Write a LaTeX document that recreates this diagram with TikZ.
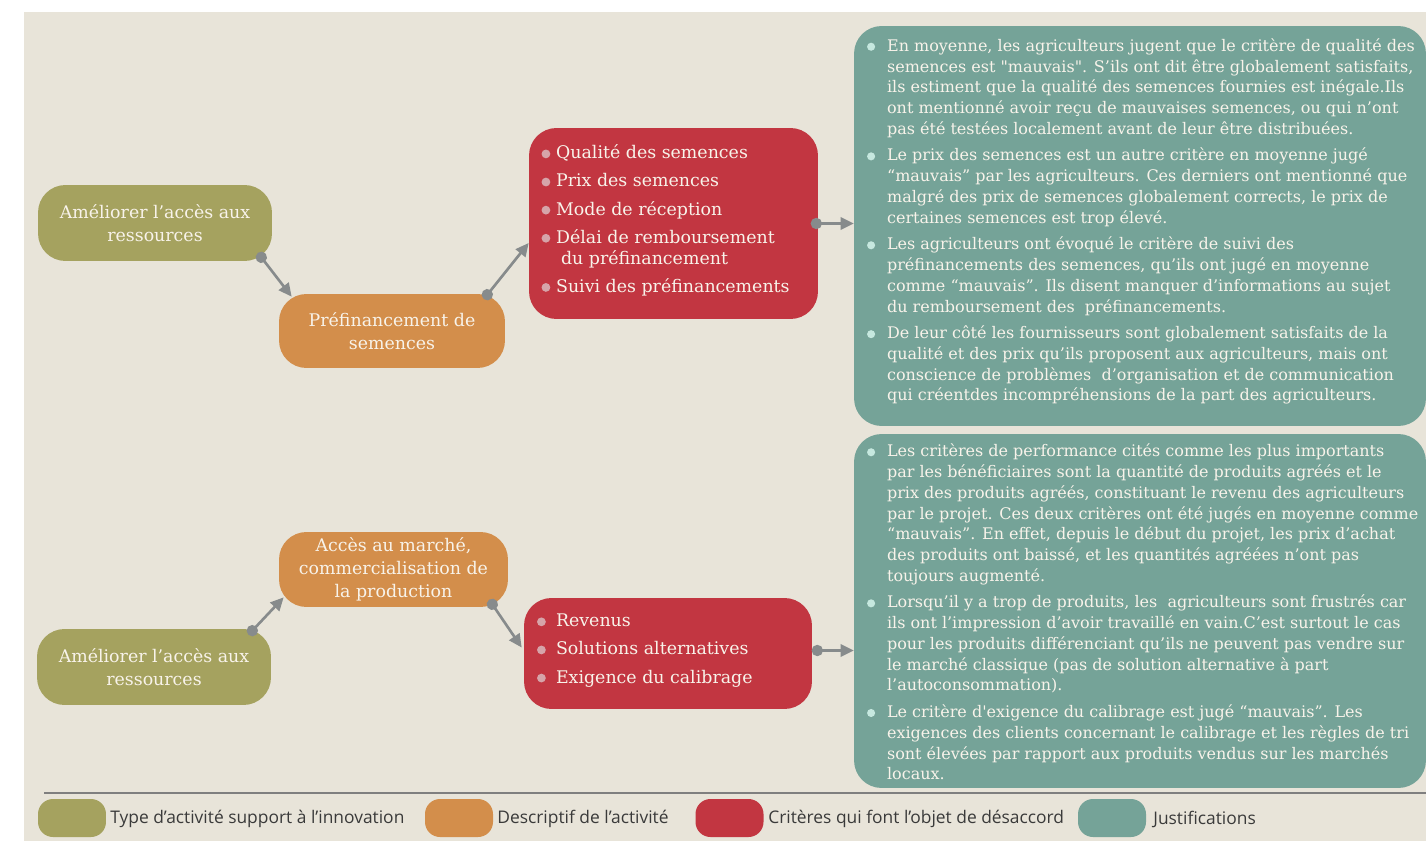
\documentclass[tikz,border=0pt]{standalone}
\usepackage{fontspec}
\setmainfont{DejaVu Serif}
\newfontfamily\legendfont{Open Sans}
\usetikzlibrary{arrows.meta}

\definecolor{bgbeige}{HTML}{E8E4D9}
\definecolor{boxgreen}{HTML}{A5A25F}
\definecolor{boxorange}{HTML}{D38E4B}
\definecolor{boxred}{HTML}{C23641}
\definecolor{boxteal}{HTML}{75A398}
\definecolor{linkgray}{HTML}{878B8C}
\definecolor{rulegray}{HTML}{7F7F7F}
\definecolor{textcream}{HTML}{F8F3EA}
\definecolor{dotred}{HTML}{D6A4A9}
\definecolor{dotteal}{HTML}{C6E8DF}
\definecolor{legendgray}{HTML}{3A3A3A}

\newcommand{\jusdot}{\tikz[baseline=-0.55ex]\fill[dotteal] (0,0) circle (2.3pt);}
\newcommand{\critdot}{\tikz[baseline=-0.55ex]\fill[dotred] (0,0) circle (2.5pt);}
\newcommand{\jbul}{\makebox[11.4pt][l]{\jusdot}}
\newcommand{\jind}{\hspace*{11.4pt}}

\begin{document}
\begin{tikzpicture}[x=0.02cm, y=-0.02cm,
    box/.style={rounded corners=0.55cm, inner sep=0pt, text=textcream, align=center,
      font=\fontsize{9.9}{13}\selectfont},
    actbox/.style={box, fill=boxgreen, minimum width=4.68cm, minimum height=1.52cm},
    descbox/.style={box, fill=boxorange},
    critbox/.style={box, fill=boxred},
    jusbox/.style={box, fill=boxteal, minimum width=11.44cm},
    listtext/.style={anchor=west, inner sep=0pt, align=left, text=textcream},
    crittext/.style={listtext, font=\fontsize{9.9}{12}\selectfont},
    justext/.style={listtext, font=\fontsize{9.1}{11.8}\selectfont},
    link/.style={draw=linkgray, line width=1.5pt,
      {Circle[length=6.4pt]}-{Triangle[length=7.5pt,width=7pt]}, shorten <=-3.2pt},
    swatch/.style={rounded corners=0.3cm, minimum width=1.36cm, minimum height=0.76cm, inner sep=0pt},
    legendtext/.style={anchor=west, inner sep=0pt, text=legendgray,
      font=\legendfont\fontsize{9.9}{11}\selectfont}]

  \useasboundingbox (0,0) rectangle (1426,841);
  \fill[bgbeige] (24,12) rectangle (1426,841);

  % first chain
  \node[actbox] (res1) at (155,223) {Améliorer l’accès aux\\ressources};
  \node[descbox, minimum width=4.52cm, minimum height=1.48cm] (pre1) at (392,331)
    {Préfinancement de\\semences};
  \node[critbox, minimum width=5.78cm, minimum height=3.82cm] (crit1) at (673.5,223.5) {};
  \node[crittext] (crit1txt) at ([xshift=0.25cm, yshift=0.06cm]crit1.west)
    {\makebox[8.3pt][l]{\critdot}Qualité des semences\\[4pt]
     \makebox[8.3pt][l]{\critdot}Prix des semences\\[4pt]
     \makebox[8.3pt][l]{\critdot}Mode de réception\\[4pt]
     \makebox[8.3pt][l]{\critdot}Délai de remboursement\\
     \hspace*{11.1pt}du préfinancement\\[4pt]
     \makebox[8.3pt][l]{\critdot}Suivi des préfinancements};
  \node[jusbox, minimum height=8cm] (jus1) at (1140,226) {};
  \node[justext] (jus1txt) at ([xshift=0.26cm, yshift=0.09cm]jus1.west)
    {\jbul En moyenne, les agriculteurs jugent que le critère de qualité des\\
     \jind semences est \textquotedbl mauvais\textquotedbl. S’ils ont dit être globalement satisfaits,\\
     \jind ils estiment que la qualité des semences fournies est inégale.Ils\\
     \jind ont mentionné avoir reçu de mauvaises semences, ou qui n’ont\\
     \jind pas été testées localement avant de leur être distribuées.\\[3.4pt]
     \jbul Le prix des semences est un autre critère en moyenne jugé\\
     \jind “mauvais” par les agriculteurs. Ces derniers ont mentionné que\\
     \jind malgré des prix de semences globalement corrects, le prix de\\
     \jind certaines semences est trop élevé.\\[3.4pt]
     \jbul Les agriculteurs ont évoqué le critère de suivi des\\
     \jind préfinancements des semences, qu’ils ont jugé en moyenne\\
     \jind comme “mauvais”. Ils disent manquer d’informations au sujet\\
     \jind du remboursement des\ \ préfinancements.\\[3.4pt]
     \jbul De leur côté les fournisseurs sont globalement satisfaits de la\\
     \jind qualité et des prix qu’ils proposent aux agriculteurs, mais ont\\
     \jind conscience de problèmes\ \ d’organisation et de communication\\
     \jind qui créentdes incompréhensions de la part des agriculteurs.};

  \draw[link] ([shift={(-11,-4)}]res1.south east) -- ([shift={(13,3)}]pre1.north west);
  \draw[link] ([shift={(-18,1)}]pre1.north east) -- ([shift={(0,19.5)}]crit1.west);
  \coordinate (out1) at ([xshift=-0.04cm]crit1.east);
  \draw[link] (out1) -- (out1 -| jus1.west);

  % second chain
  \node[actbox] (res2) at (154,667) {Améliorer l’accès aux\\ressources};
  \node[descbox, minimum width=4.58cm, minimum height=1.5cm] (pre2) at (393.5,569.5)
    {Accès au marché,\\commercialisation de\\la production};
  \node[critbox, minimum width=5.76cm, minimum height=2.22cm] (crit2) at (668,653.5) {};
  \node[crittext] (crit2txt) at ([xshift=0.26cm, yshift=0.06cm]crit2.west)
    {\makebox[10.8pt][l]{\critdot}Revenus\\[4pt]
     \makebox[10.8pt][l]{\critdot}Solutions alternatives\\[4pt]
     \makebox[10.8pt][l]{\critdot}Exigence du calibrage};
  \node[jusbox, minimum height=7.08cm] (jus2) at (1140,611) {};
  \node[justext] (jus2txt) at ([xshift=0.26cm, yshift=-0.02cm]jus2.west)
    {\jbul Les critères de performance cités comme les plus importants\\
     \jind par les bénéficiaires sont la quantité de produits agréés et le\\
     \jind prix des produits agréés, constituant le revenu des agriculteurs\\
     \jind par le projet. Ces deux critères ont été jugés en moyenne comme\\
     \jind “mauvais”. En effet, depuis le début du projet, les prix d’achat\\
     \jind des produits ont baissé, et les quantités agréées n’ont pas\\
     \jind toujours augmenté.\\[3.4pt]
     \jbul Lorsqu’il y a trop de produits, les\ \ agriculteurs sont frustrés car\\
     \jind ils ont l’impression d’avoir travaillé en vain.C’est surtout le cas\\
     \jind pour les produits différenciant qu’ils ne peuvent pas vendre sur\\
     \jind le marché classique (pas de solution alternative à part\\
     \jind l’autoconsommation).\\[3.4pt]
     \jbul Le critère d\textquotesingle exigence du calibrage est jugé “mauvais”. Les\\
     \jind exigences des clients concernant le calibrage et les règles de tri\\
     \jind sont élevées par rapport aux produits vendus sur les marchés\\
     \jind locaux.};

  \draw[link] ([shift={(-19,2)}]res2.north east) -- ([shift={(5,-10)}]pre2.south west);
  \draw[link] ([shift={(-16,-3)}]pre2.south east) -- ([shift={(-2,-6)}]crit2.west);
  \coordinate (out2) at ([shift={(5,-3)}]crit2.east);
  \draw[link] (out2) -- (out2 -| jus2.west);

  % legend
  \draw[rulegray, line width=1.1pt] (44,793) -- (1426,793);
  \foreach \i/\sx/\tx/\col/\txt in {1/72/110/boxgreen/{Type d’activité support à l’innovation},
      2/459/497/boxorange/{Descriptif de l’activité},
      3/729.5/768/boxred/{Critères qui font l’objet de désaccord},
      4/1112/1153/boxteal/{Justifications}} {
    \node[swatch, fill=\col] (swatch\i) at (\sx,818) {};
    \node[legendtext] (legend\i) at (\tx,819) {\txt};
  }

\end{tikzpicture}
\end{document}
